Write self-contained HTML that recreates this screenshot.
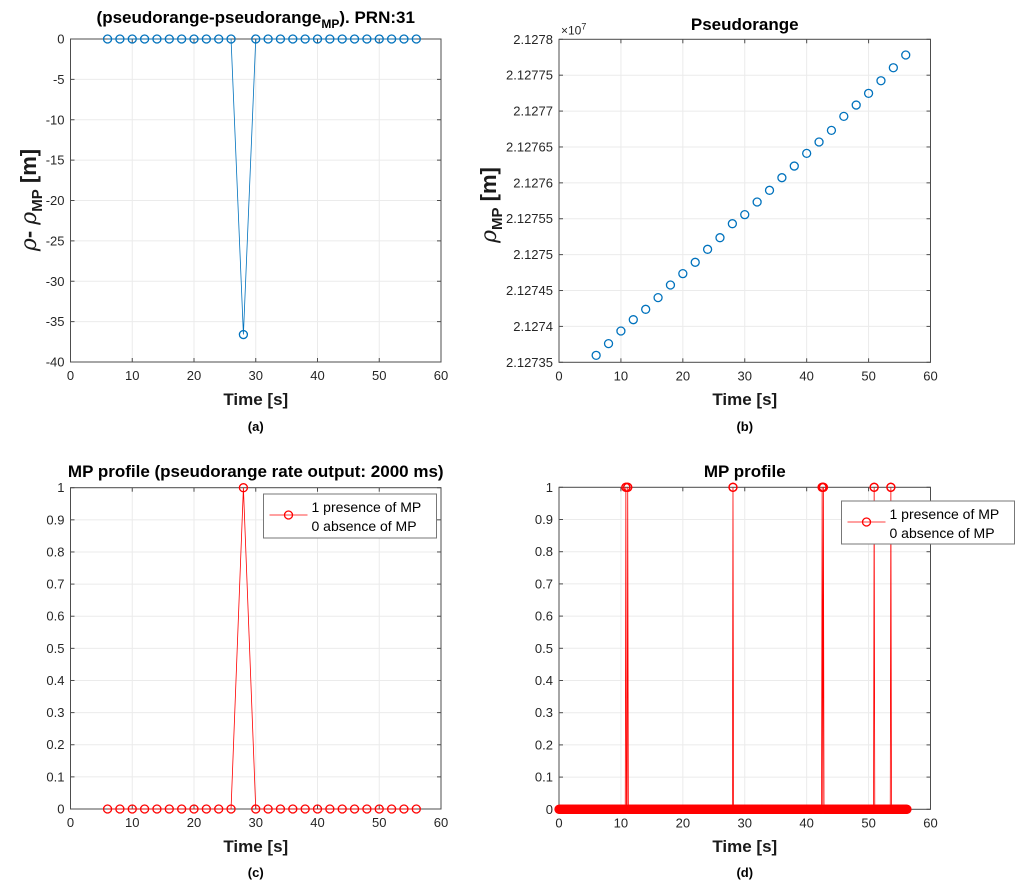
<!DOCTYPE html>
<html><head><meta charset="utf-8"><style>
body{margin:0;background:#fff;}
svg text{font-family:"Liberation Sans",sans-serif;}
</style></head><body>
<svg id="fig" width="1024" height="884" xmlns="http://www.w3.org/2000/svg"></svg>
<script>
// Panel (a) data
const tA = [6,8,10,12,14,16,18,20,22,24,26,28,30,32,34,36,38,40,42,44,46,48,50,52,54,56];
const diffA = [0,0,0,0,0,0,0,0,0,0,0,-36.6,0,0,0,0,0,0,0,0,0,0,0,0,0,0];
const yTicksA = [0,-5,-10,-15,-20,-25,-30,-35,-40];
// Panel (b) data (meters)
const tB = [6,8,10,12,14,16,18,20,22,24,26,28,30,32,34,36,38,40,42,44,46,48,50,52,54,56];
const rangeB = [21273597,21273760,21273936,21274094,21274238,21274401,21274577,21274735,21274893,21275074,21275236,21275431,21275557,21275733,21275896,21276072,21276234,21276411,21276569,21276731,21276926,21277084,21277247,21277423,21277604,21277781];
const yTickLabelsB = ["2.12735","2.1274","2.12745","2.1275","2.12755","2.1276","2.12765","2.1277","2.12775","2.1278"];
const yTicksB = [21273500,21274000,21274500,21275000,21275500,21276000,21276500,21277000,21277500,21278000];
// Panel (c) data
const tC = [6,8,10,12,14,16,18,20,22,24,26,28,30,32,34,36,38,40,42,44,46,48,50,52,54,56];
const mpC = [0,0,0,0,0,0,0,0,0,0,0,1,0,0,0,0,0,0,0,0,0,0,0,0,0,0];
// Panel (d) data: sample spacing and spike times
const dStart = 0, dEnd = 56.2, dStep = 0.1;
const spikeTimesD = [10.8, 11.1, 28.1, 42.5, 42.7, 50.9, 53.6];
const yTicks01 = [0,0.1,0.2,0.3,0.4,0.5,0.6,0.7,0.8,0.9,1];
const xTicks = [0,10,20,30,40,50,60];

const NS="http://www.w3.org/2000/svg";
const svg=document.getElementById('fig');
function el(tag,attrs,parent){const e=document.createElementNS(NS,tag);for(const k in attrs)e.setAttribute(k,attrs[k]);(parent||svg).appendChild(e);return e;}
function txt(s,attrs,parent){const e=el('text',attrs,parent);e.textContent=s;return e;}

function axes(name,L,R,T,B,ymin,ymax,yt,ytl){
  const g=el('g',{});
  
  
  const sx=v=>L+(v-0)/60*(R-L);
  const sy=v=>B-(v-ymin)/(ymax-ymin)*(B-T);
  el('rect',{x:L,y:T,width:R-L,height:B-T,fill:'#fff'},g);
  xTicks.forEach(v=>{
    el('line',{x1:sx(v),x2:sx(v),y1:T,y2:B,stroke:'#ebebeb','stroke-width':1},g);
  });
  yt.forEach(v=>{el('line',{x1:L,x2:R,y1:sy(v),y2:sy(v),stroke:'#ebebeb','stroke-width':1},g);});
  el('rect',{x:L,y:T,width:R-L,height:B-T,fill:'none',stroke:'#4d4d4d','stroke-width':1},g);
  xTicks.forEach(v=>{
    el('line',{x1:sx(v),x2:sx(v),y1:B,y2:B-4,stroke:'#4d4d4d'},g);
    el('line',{x1:sx(v),x2:sx(v),y1:T,y2:T+4,stroke:'#4d4d4d'},g);
    const t=txt(String(v),{x:sx(v),y:B+18,'font-size':13,'text-anchor':'middle',fill:'#262626'},g);
    
    
  });
  yt.forEach((v,i)=>{
    el('line',{x1:L,x2:L+4,y1:sy(v),y2:sy(v),stroke:'#4d4d4d'},g);
    el('line',{x1:R,x2:R-4,y1:sy(v),y2:sy(v),stroke:'#4d4d4d'},g);
    const t=txt(ytl?ytl[i]:String(v),{x:L-6,y:sy(v)+4.5,'font-size':13,'text-anchor':'end',fill:'#262626'},g);
    
    
  });
  return {sx,sy,g};
}
function circle(g,x,y,c,name){
  const e=el('circle',{cx:x,cy:y,r:4,fill:'none',stroke:c,'stroke-width':1.3},g);
  
  
}
function labels(cx,titleY,title,xlabY,capY,cap){
  if(title){const t=txt('',{x:cx,y:titleY,'font-size':17,'font-weight':'bold','text-anchor':'middle',fill:'#000'});t.innerHTML=title;}
  const x=txt('Time [s]',{x:cx,y:xlabY,'font-size':17,'font-weight':'bold','text-anchor':'middle',fill:'#1a1a1a'});
  
  const c=txt(cap,{x:cx,y:capY,'font-size':13,'font-weight':'bold','text-anchor':'middle',fill:'#000'});
  
}
function legend(x,y,w,h){
  const g=el('g',{});
  
  
  el('rect',{x:x,y:y,width:w,height:h,fill:'#fff',stroke:'#777'},g);
  el('line',{x1:x+6,x2:x+44,y1:y+21,y2:y+21,stroke:'#f00','stroke-width':0.8},g);
  el('circle',{cx:x+25,cy:y+21,r:4,fill:'none',stroke:'#f00','stroke-width':1.3},g);
  const a=txt('1 presence of MP',{x:x+48,y:y+18,'font-size':14,fill:'#000'},g);
  
  const b=txt('0 absence of MP',{x:x+48,y:y+37,'font-size':14,fill:'#000'},g);
  
}

// Panel A
(function(){
  const L=70.5,R=441,T=39,B=362;
  const a=axes('panel-a-axes',L,R,T,B,-40,0,yTicksA);
  const pts=tA.map((t,i)=>a.sx(t)+','+a.sy(diffA[i])).join(' ');
  const pl=el('polyline',{points:pts,fill:'none',stroke:'#0072bd','stroke-width':0.8},a.g);
  
  tA.forEach((t,i)=>circle(a.g,a.sx(t),a.sy(diffA[i]),'#0072bd','difference-point'));
  labels((L+R)/2,23,'(pseudorange-pseudorange<tspan font-size="12" dy="5">MP</tspan><tspan dy="-5">). PRN:31</tspan>',405,431,'(a)');
  const yl=txt('',{transform:'translate(36,200) rotate(-90)','font-size':22,'font-weight':'bold','text-anchor':'middle',fill:'#1a1a1a'});
  yl.innerHTML='<tspan font-style="italic" font-weight="normal" font-family="DejaVu Serif">ρ</tspan>- <tspan font-style="italic" font-weight="normal" font-family="DejaVu Serif">ρ</tspan><tspan font-size="15" dy="6">MP</tspan><tspan dy="-6"> [m]</tspan>';
  
})();
// Panel B
(function(){
  const L=559,R=930.5,T=39.3,B=362.3;
  const a=axes('panel-b-axes',L,R,T,B,21273500,21278000,yTicksB,yTickLabelsB);
  tB.forEach((t,i)=>circle(a.g,a.sx(t),a.sy(rangeB[i]),'#0072bd','pseudorange-point'));
  const e=txt('',{x:L+2,y:T-5,'font-size':12,fill:'#262626'});
  e.innerHTML='×10<tspan font-size="9" dy="-5">7</tspan>';
  
  labels((L+R)/2,30,'Pseudorange',405,431,'(b)');
  const yl=txt('',{transform:'translate(496,205) rotate(-90)','font-size':22,'font-weight':'bold','text-anchor':'middle',fill:'#1a1a1a'});
  yl.innerHTML='<tspan font-style="italic" font-weight="normal" font-family="DejaVu Serif">ρ</tspan><tspan font-size="15" dy="6">MP</tspan><tspan dy="-6"> [m]</tspan>';
  
})();
// Panel C
(function(){
  const L=70.5,R=441,T=487.7,B=809;
  const a=axes('panel-c-axes',L,R,T,B,0,1,yTicks01);
  const pts=tC.map((t,i)=>a.sx(t)+','+a.sy(mpC[i])).join(' ');
  const pl=el('polyline',{points:pts,fill:'none',stroke:'#f00','stroke-width':0.8},a.g);
  
  tC.forEach((t,i)=>circle(a.g,a.sx(t),a.sy(mpC[i]),'#f00','mp-point'));
  legend(263.5,494,173,44);
  labels((L+R)/2,477,'MP profile (pseudorange rate output: 2000 ms)',852,877,'(c)');
})();
// Panel D
(function(){
  const L=559,R=930.5,T=487.3,B=809.3;
  const a=axes('panel-d-axes',L,R,T,B,0,1,yTicks01);
  const times=[];
  for(let t=dStart;t<=dEnd+1e-9;t+=dStep)times.push(+t.toFixed(2));
  spikeTimesD.forEach(s=>times.push(s));
  times.sort((p,q)=>p-q);
  const vals=times.map(t=>spikeTimesD.includes(t)?1:0);
  const pts=times.map((t,i)=>a.sx(t)+','+a.sy(vals[i])).join(' ');
  const pl=el('polyline',{points:pts,fill:'none',stroke:'#f00','stroke-width':0.8},a.g);
  
  times.forEach((t,i)=>circle(a.g,a.sx(t),a.sy(vals[i]),'#f00','mp-point'));
  legend(841.5,501,173,43);
  labels((L+R)/2,477,'MP profile',852,877,'(d)');
})();
</script>
</body></html>
